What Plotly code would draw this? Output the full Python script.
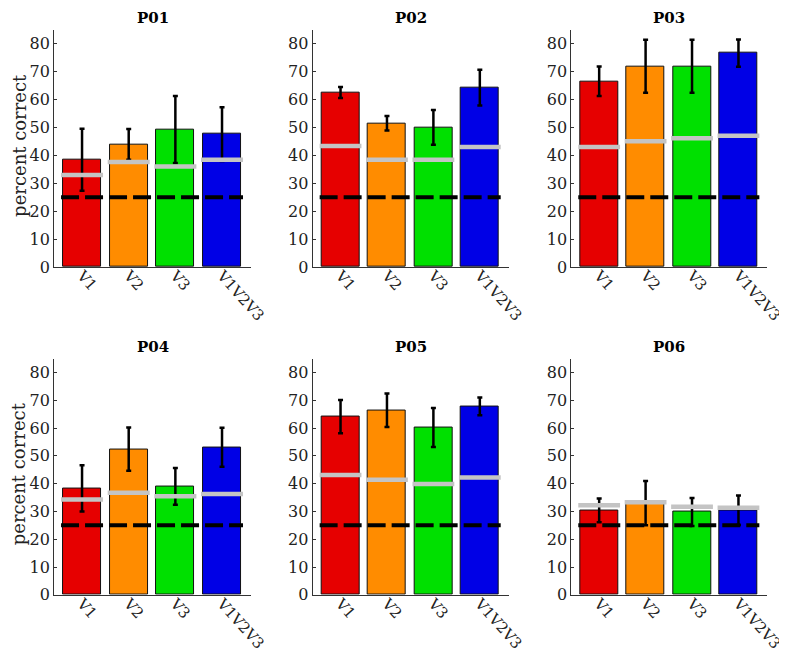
import plotly.graph_objects as go
from plotly.subplots import make_subplots

# Données
participants = ["P01", "P02", "P03", "P04", "P05", "P06"]
conditions = ["V1", "V2", "V3", "V1V2V3"]
bar_colors = ["#e60000", "#ff8c00", "#00e000", "#0000e6"]

accuracy = [
    [38.4, 43.9, 49.2, 47.6],
    [62.5, 51.5, 50.0, 64.2],
    [66.5, 71.9, 71.9, 76.6],
    [38.3, 52.4, 39.0, 53.1],
    [64.1, 66.4, 60.2, 67.8],
    [30.4, 33.0, 29.8, 30.4],
]
accuracy_err = [
    [11.1, 5.5, 12.0, 9.6],
    [2.0, 2.6, 6.2, 6.4],
    [5.3, 9.5, 9.5, 4.9],
    [8.3, 7.8, 6.6, 7.0],
    [6.0, 6.0, 7.0, 3.2],
    [4.3, 8.0, 5.0, 5.3],
]
# seuil des permutations (barres grises)
permutation = [
    [32.9, 37.6, 36.0, 38.4],
    [43.3, 38.4, 38.4, 43.0],
    [43.0, 45.0, 46.1, 47.0],
    [34.3, 36.7, 35.5, 36.3],
    [43.1, 41.4, 39.9, 42.2],
    [32.2, 33.3, 31.7, 31.3],
]
chance_level = 25
y_ticks = [0, 10, 20, 30, 40, 50, 60, 70, 80]

W, H = 787, 653
x_doms = [[47 / W, 248 / W], [311 / W, 511 / W], [575 / W, 775 / W]]
y_doms = [[1 - 263 / H, 1 - 22 / H], [1 - 596 / H, 1 - 356 / H]]

fig = make_subplots(rows=2, cols=3)

font = "DejaVu Serif"
for p_idx, pid in enumerate(participants):
    row = p_idx // 3 + 1
    col = p_idx % 3 + 1
    idx = list(range(len(conditions)))
    fig.add_trace(
        go.Bar(
            x=idx,
            y=accuracy[p_idx],
            width=0.82,
            marker=dict(color=bar_colors, line=dict(color="#111", width=1)),
            error_y=dict(
                type="data",
                array=accuracy_err[p_idx],
                color="black",
                thickness=2.5,
                width=2.5,
            ),
            showlegend=False,
        ),
        row=row,
        col=col,
    )
    ax = "" if p_idx == 0 else str(p_idx + 1)
    # lignes grises (permutations)
    for i, v in enumerate(permutation[p_idx]):
        fig.add_shape(
            type="line",
            xref=f"x{ax}",
            yref=f"y{ax}",
            x0=i - 0.45,
            x1=i + 0.45,
            y0=v,
            y1=v,
            line=dict(color="#c4c4c4", width=4.5),
            layer="above",
        )
    # niveau de chance
    fig.add_shape(
        type="line",
        xref=f"x{ax}",
        yref=f"y{ax}",
        x0=-0.45,
        x1=len(conditions) - 1 + 0.45,
        y0=chance_level,
        y1=chance_level,
        line=dict(color="black", width=4, dash="18px,6px"),
        layer="above",
    )
    fig.update_xaxes(
        domain=x_doms[col - 1],
        range=[-0.6, 3.62],
        tickvals=idx,
        ticktext=conditions,
        tickangle=48,
        ticklabelstandoff=-7,
        showline=True,
        linecolor="#333",
        linewidth=1,
        showgrid=False,
        zeroline=False,
        ticks="",
        tickfont=dict(family=font, size=15, color="#222"),
        row=row,
        col=col,
    )
    fig.update_yaxes(
        domain=y_doms[row - 1],
        range=[0, 85],
        tickvals=y_ticks,
        showline=True,
        linecolor="#333",
        linewidth=1,
        showgrid=False,
        zeroline=False,
        ticks="inside",
        ticklen=3,
        tickcolor="#333",
        tickfont=dict(family=font, size=16, color="#222"),
        row=row,
        col=col,
    )
    xd = x_doms[col - 1]
    yd = y_doms[row - 1]
    fig.add_annotation(
        text=f"<b>{pid}</b>",
        x=(xd[0] + xd[1]) / 2,
        y=yd[1] + 1 / H,
        xref="paper",
        yref="paper",
        xanchor="center",
        yanchor="bottom",
        showarrow=False,
        font=dict(family=font, size=15, color="black"),
    )
    if col == 1:
        fig.add_annotation(
            text="percent correct",
            textangle=-90,
            x=11 / W,
            y=(yd[0] + yd[1]) / 2 + 0.005,
            xref="paper",
            yref="paper",
            xanchor="center",
            yanchor="middle",
            showarrow=False,
            font=dict(family=font, size=18, color="#222"),
        )

fig.update_layout(
    width=W,
    height=H,
    margin=dict(l=0, r=0, t=0, b=0),
    plot_bgcolor="white",
    paper_bgcolor="white",
    bargap=0,
)

fig.write_html("out.html")
